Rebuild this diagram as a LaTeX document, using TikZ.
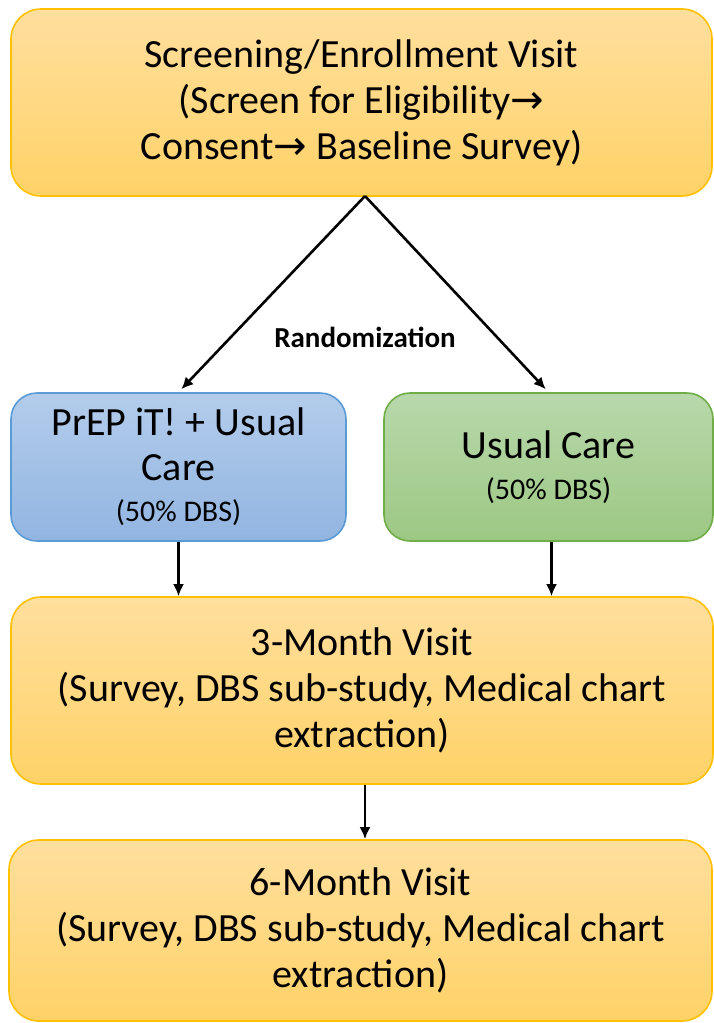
\documentclass[tikz,border=0pt]{standalone}
\usepackage{fontspec}
\setmainfont{Carlito}
\newfontfamily\symfont{DejaVu Sans}
\usetikzlibrary{arrows.meta}
\definecolor{visittop}{HTML}{FFDF9E}
\definecolor{visitbot}{HTML}{FFD267}
\definecolor{visitline}{HTML}{FFC000}
\definecolor{armatop}{HTML}{B3CCEB}
\definecolor{armabot}{HTML}{92B5E1}
\definecolor{armaline}{HTML}{5B9BD5}
\definecolor{armbtop}{HTML}{B8D8AB}
\definecolor{armbbot}{HTML}{9CC883}
\definecolor{armbline}{HTML}{70AD47}
\newcommand{\rarr}{{\symfont\char"2192}}
\tikzset{
  visit/.style={draw=visitline, line width=0.8pt, rounded corners=15pt,
    top color=visittop, bottom color=visitbot, align=center,
    font=\fontsize{20}{23}\selectfont, inner sep=0pt},
  armbox/.style={line width=0.8pt, rounded corners=13pt, align=center,
    font=\fontsize{20}{22.5}\selectfont, inner sep=0pt},
  flow/.style={-{Latex[length=6pt,width=5.5pt]}, line width=1.3pt}
}

\begin{document}
\begin{tikzpicture}[x=0.5pt,y=-0.5pt]
            % Define the page frame
            \useasboundingbox (0,0) rectangle (713,1023);

            % Define the enrollment visit
            \node[visit, minimum width=350.5pt, minimum height=93.5pt] (enroll) at (361.5,102.5)
              {Screening/Enrollment Visit\\(Screen for Eligibility\rarr\\Consent\rarr\ Baseline Survey)};

            % Define the two study arms
            \node[armbox, draw=armaline, top color=armatop, bottom color=armabot,
              minimum width=167.5pt, minimum height=74pt] (prep) at (178.5,467)
              {PrEP iT! + Usual\\Care\\[-2pt]{\fontsize{15}{17}\selectfont (50\% DBS)}};
            \node[armbox, draw=armbline, top color=armbtop, bottom color=armbbot,
              minimum width=164.5pt, minimum height=74pt] (usual) at (548.5,467)
              {Usual Care\\[-2pt]{\fontsize{15}{17}\selectfont (50\% DBS)}};

            % Define the follow-up visits
            \node[visit, minimum width=351pt, minimum height=93.5pt] (month3) at (362,690.5)
              {3-Month Visit\\(Survey, DBS sub-study, Medical chart\\extraction)};
            \node[visit, minimum width=351.5pt, minimum height=90.5pt] (month6) at (360.5,930.5)
              {6-Month Visit\\(Survey, DBS sub-study, Medical chart\\extraction)};

            % Add the randomization label
            \node[font=\bfseries\fontsize{14.5}{17}\selectfont] (rand) at (365,337) {Randomization};

            % Add arrows between the visits
            \coordinate (split) at (365,196);
            \draw[flow, shorten >=2pt] (split) -- (prep.north);
            \draw[flow, shorten >=2pt] (split) -- (usual.north);
            \draw[flow] (prep.south) -- (prep.south |- month3.north);
            \draw[flow] ([xshift=1.5pt]usual.south) -- ([xshift=1.5pt]usual.south |- month3.north);
            \draw[flow] ([xshift=1.5pt]month3.south) -- ([xshift=1.5pt]month3.south |- month6.north);
        \end{tikzpicture}
\end{document}
